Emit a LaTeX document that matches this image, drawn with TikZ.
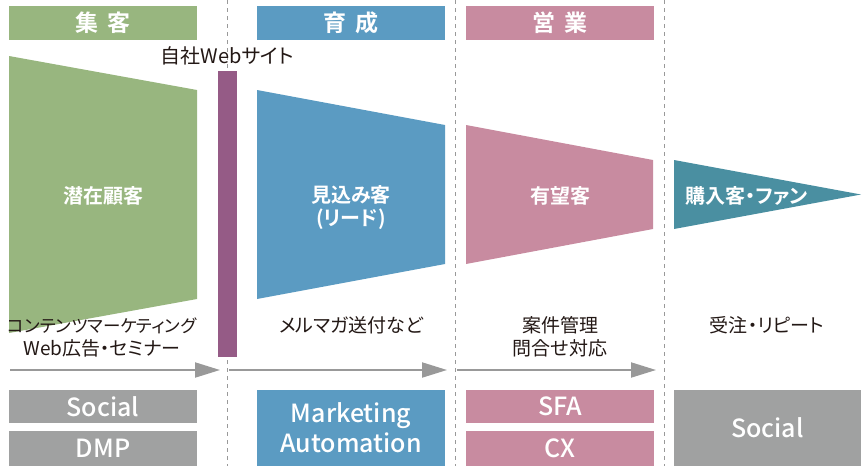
\documentclass[tikz,border=0pt]{standalone}
\usepackage{fontspec}
\setmainfont{Noto Sans CJK JP}[BoldFont={Noto Sans CJK JP Bold}, RawFeature=+palt]
\newfontfamily\mediumfont{Noto Sans CJK JP Medium}
\usetikzlibrary{arrows.meta}
\definecolor{cgreen}{HTML}{98B67F}
\definecolor{cblue}{HTML}{5B9BC2}
\definecolor{cpink}{HTML}{C88BA0}
\definecolor{cpurple}{HTML}{955B86}
\definecolor{cteal}{HTML}{4A8FA1}
\definecolor{cgray}{HTML}{A0A1A1}
\definecolor{cline}{HTML}{999999}
\definecolor{ctext}{HTML}{231815}
\tikzset{
  header/.style={inner sep=0pt, minimum width=188pt, minimum height=34pt, text=white, font=\fontsize{23}{24}\selectfont\bfseries},
  toolbox/.style={inner sep=0pt, minimum width=188pt, text=white, font=\fontsize{25}{30}\selectfont\mediumfont, align=center},
  stagelabel/.style={text=white, font=\fontsize{20}{23}\selectfont\bfseries, align=center, inner sep=0pt},
  note/.style={text=ctext, font=\fontsize{19}{23}\selectfont, align=center, inner sep=0pt},
  divider/.style={cline, line width=1pt, dash pattern=on 4pt off 4pt},
  flow/.style={cline, line width=2pt, -{Triangle[length=25pt,width=15pt]}},
}
\begin{document}
\begin{tikzpicture}[x=1pt,y=-1pt]
\useasboundingbox (0,0) rectangle (867,466);
% dividers
\draw[divider] (227,0) -- (227,466);
\draw[divider] (455,0) -- (455,466);
\draw[divider] (664,0) -- (664,466);
% headers
\node[header, fill=cgreen] (h1) at (103,23) {集\hspace{0.4em}客};
\node[header, fill=cblue] (h2) at (351,23) {育\hspace{0.4em}成};
\node[header, fill=cpink] (h3) at (560,23) {営\hspace{0.4em}業};
% funnel shapes
\fill[cgreen] (9,56) -- (197,90) -- (197,299) -- (9,333) -- cycle;
\fill[cblue] (257,90) -- (445,125) -- (445,264) -- (257,299) -- cycle;
\fill[cpink] (466,125) -- (653,160) -- (653,229) -- (466,264) -- cycle;
\fill[cteal] (674,160) -- (861,194.5) -- (674,229) -- cycle;
\fill[cpurple] (218,71) rectangle (237,357);
% labels
\node[stagelabel] (s1) at (103,196) {潜在顧客};
\node[stagelabel] (s2) at (351,208) {見込み客\\(リード)};
\node[stagelabel] (s3) at (560,196) {有望客};
\node[stagelabel] (s4) at (747,196) {購入客・ファン};
\node[note, font=\fontsize{20}{23}\selectfont] (web) at (227,56) {自社Webサイト};
% notes
\node[note] (n1) at (102,337) {{\fontsize{17.5}{23}\selectfont コンテンツマーケティング}\\Web広告・セミナー};
\node[note] (n2) at (351,325) {メルマガ送付など};
\node[note] (n3) at (560,337) {案件管理\\問合せ対応};
\node[note] (n4) at (767,325) {受注・リピート};
% arrows
\coordinate (a1s) at (10,370); \coordinate (a1e) at (220,370);
\coordinate (a2s) at (229,370); \coordinate (a2e) at (447,370);
\coordinate (a3s) at (457,370); \coordinate (a3e) at (656,370);
\draw[flow] (a1s) -- (a1e);
\draw[flow] (a2s) -- (a2e);
\draw[flow] (a3s) -- (a3e);
% tool boxes
\node[toolbox, fill=cgray, minimum height=33pt] (t1) at (103,406.5) {Social};
\node[toolbox, fill=cgray, minimum height=35pt] (t2) at (103,448.5) {DMP};
\node[toolbox, fill=cblue, minimum height=76pt] (t3) at (351,428) {Marketing\\Automation};
\node[toolbox, fill=cpink, minimum height=33pt] (t4) at (560,406.5) {SFA};
\node[toolbox, fill=cpink, minimum height=35pt] (t5) at (560,448.5) {CX};
\node[toolbox, fill=cgray, minimum height=76pt, minimum width=187pt] (t6) at (767.5,428) {Social};
\end{tikzpicture}
\end{document}
